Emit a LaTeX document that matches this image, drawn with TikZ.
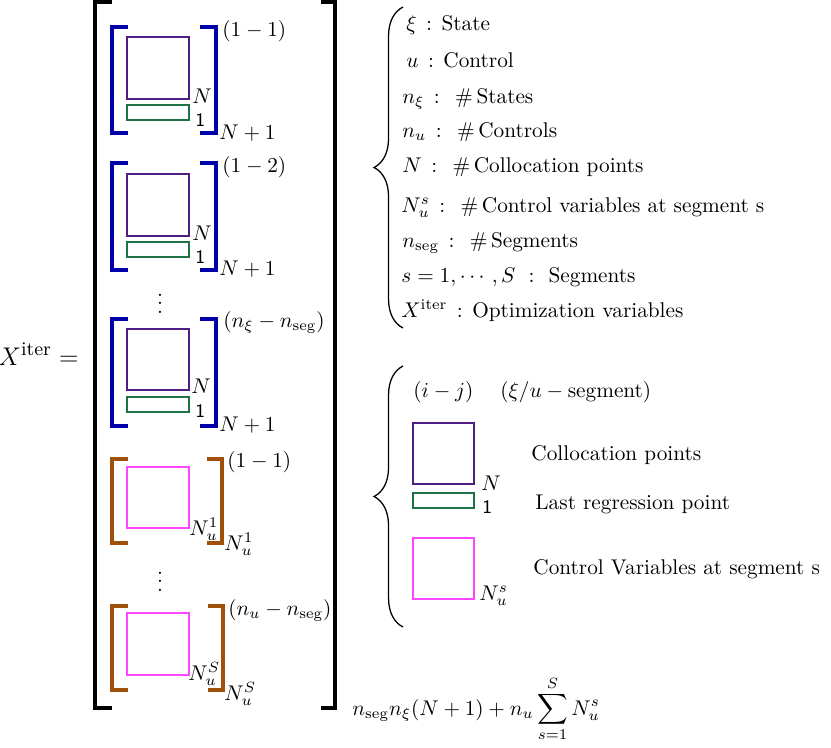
\documentclass[tikz,border=0pt]{standalone}
\usepackage{amssymb}
\usepackage{amsmath}
\usetikzlibrary{decorations.pathreplacing}
\definecolor{stblue}{RGB}{0,0,170}
\definecolor{colpurple}{RGB}{80,30,130}
\definecolor{lastgreen}{RGB}{30,115,70}
\definecolor{ctbrown}{RGB}{160,80,10}
\definecolor{ctlpink}{RGB}{255,70,255}
\begin{document}
\begin{tikzpicture}[x=0.47pt,y=-0.47pt,
    blkbrk/.style={line width=1.7pt},
    stbrk/.style={stblue, line width=1.6pt},
    ctbrk/.style={ctbrown, line width=1.6pt},
    colbox/.style={colpurple, line width=0.7pt},
    lastbox/.style={lastgreen, line width=0.7pt},
    ctlbox/.style={ctlpink, line width=0.75pt},
    brc/.style={decorate, decoration={brace, amplitude=13.6pt}, line width=0.6pt},
    lbl/.style={inner sep=0pt, anchor=base west},
    one/.style={inner sep=0pt, anchor=base west, font=\sffamily\small}]
    \useasboundingbox (0,0) rectangle (831,747);
    \node[inner sep=0pt, anchor=base east, font=\fontsize{13}{16}\selectfont] (xiter) at (79,365) {$X^{\text{iter}}=$};
    \draw[blkbrk] (112,1.8) -- (95,1.8) -- (95,708) -- (112,708);
    \draw[blkbrk] (321,1.8) -- (335,1.8) -- (335,708) -- (321,708);
    \draw[stbrk] (128,27) -- (112,27) -- (112,133) -- (128,133);
    \draw[stbrk] (200,27) -- (216,27) -- (216,133) -- (200,133);
    \draw[colbox] (127,37) rectangle (189,99);
    \draw[lastbox] (127,105) rectangle (189,120);
    \node[lbl] (idxa) at (222,36) {$(1-1)$};
    \node[lbl] (na) at (192,103) {$N$};
    \node[one] (onea) at (195,126) {1};
    \node[lbl] (sza) at (219,139) {$N+1$};
    \draw[stbrk] (128,163) -- (112,163) -- (112,270) -- (128,270);
    \draw[stbrk] (200,163) -- (216,163) -- (216,270) -- (200,270);
    \draw[colbox] (127,174) rectangle (189,236);
    \draw[lastbox] (127,242) rectangle (189,257);
    \node[lbl] (idxb) at (222,172) {$(1-2)$};
    \node[lbl] (nb) at (192,240) {$N$};
    \node[one] (oneb) at (195,263) {1};
    \node[lbl] (szb) at (219,275) {$N+1$};
    \node (dotsa) at (160,297) {$\vdots$};
    \draw[stbrk] (128,319) -- (112,319) -- (112,426) -- (128,426);
    \draw[stbrk] (200,319) -- (216,319) -- (216,426) -- (200,426);
    \draw[colbox] (127,329) rectangle (189,390);
    \draw[lastbox] (127,397) rectangle (189,412);
    \node[lbl] (idxc) at (223,327) {$(n_\xi-n_{\text{seg}})$};
    \node[lbl] (nc) at (191,393) {$N$};
    \node[one] (onec) at (195,417) {1};
    \node[lbl] (szc) at (219,431) {$N+1$};
    \draw[ctbrk] (128,459) -- (112,459) -- (112,543) -- (128,543);
    \draw[ctbrk] (207,459) -- (222,459) -- (222,543) -- (207,543);
    \draw[ctlbox] (127,467) rectangle (189,528);
    \node[lbl] (idxd) at (227,467) {$(1-1)$};
    \node[lbl] (nd) at (189,535) {$N_u^1$};
    \node[lbl] (szd) at (224,550) {$N_u^1$};
    \node (dotsb) at (160,575) {$\vdots$};
    \draw[ctbrk] (128,606) -- (112,606) -- (112,690) -- (128,690);
    \draw[ctbrk] (208,606) -- (223,606) -- (223,690) -- (208,690);
    \draw[ctlbox] (127,613) rectangle (189,675);
    \node[lbl] (idxe) at (228,615) {$(n_u-n_{\text{seg}})$};
    \node[lbl] (ne) at (188,680) {$N_u^S$};
    \node[lbl] (sze) at (224,700) {$N_u^S$};
    \node[lbl] (total) at (352,715) {$\displaystyle n_{\text{seg}}n_\xi(N+1)+n_u\sum_{s=1}^{S}N_u^s$};
    \draw[brc] (403,328) -- (403,7);
    \node[lbl] (defa) at (406,30) {$\xi\,:\;\,$State};
    \node[lbl] (defb) at (406,67) {$u\,:\;\,$Control};
    \node[lbl] (defc) at (402,103) {$n_\xi\,:\;\,\#\,$States};
    \node[lbl] (defd) at (402,137) {$n_u\,:\;\,\#\,$Controls};
    \node[lbl] (defe) at (402,172) {$N\,:\;\,\#\,$Collocation points};
    \node[lbl] (deff) at (401,212) {$N_u^s\,:\;\,\#\,$Control variables at segment s};
    \node[lbl] (defg) at (402,247) {$n_{\text{seg}}\,:\;\,\#\,$Segments};
    \node[lbl] (defh) at (401,282) {$s=1,\cdots,S\ :\ \ $Segments};
    \node[lbl] (defi) at (401,317) {$X^{\text{iter}}\,:\;\,$Optimization variables};
    \draw[brc] (403,627) -- (403,366);
    \node[lbl] (keyij) at (413,397) {$(i-j)$};
    \node[lbl] (keyseg) at (500,397) {$(\xi/u-\text{segment})$};
    \draw[colbox] (413,423) rectangle (474,484);
    \draw[lastbox] (413,493) rectangle (474,508);
    \draw[ctlbox] (413,538) rectangle (474,599);
    \node[lbl] (keyn) at (481,490) {$N$};
    \node[one] (keyone) at (482,513) {1};
    \node[lbl] (keynu) at (479,600) {$N_u^s$};
    \node[lbl] (keycol) at (531,460) {Collocation points};
    \node[lbl] (keylast) at (535,509) {Last regression point};
    \node[lbl] (keyctl) at (533,574) {Control Variables at segment s};
\end{tikzpicture}
\end{document}
